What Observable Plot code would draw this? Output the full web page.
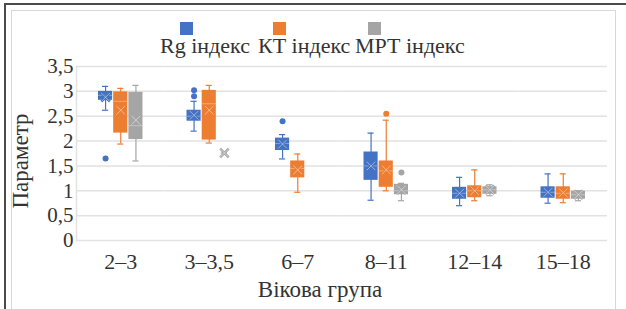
<!DOCTYPE html>
<html><head><meta charset="utf-8">
<script src="https://cdn.jsdelivr.net/npm/d3@7"></script>
<script src="https://cdn.jsdelivr.net/npm/@observablehq/plot@0.6"></script>
<style>
body{margin:0;background:#fff;}
#wrap{position:relative;width:626px;height:309px;overflow:hidden;font-family:"Liberation Serif","Times New Roman","DejaVu Serif",serif;color:#333;}
#frame{position:absolute;left:4px;top:3px;width:640px;height:320px;border-top:2px solid #4a4a4a;border-left:2px solid #4a4a4a;pointer-events:none;}
#inner{position:absolute;left:11px;top:10px;width:603px;height:310px;border:1px solid #d8d8d8;pointer-events:none;}
#legend{position:relative;height:40px;}
.sw{position:absolute;width:13px;height:13px;top:22px;}
.lt{position:absolute;top:34px;font-size:22px;white-space:nowrap;line-height:24px;}
#ytitle{position:absolute;left:21px;top:161px;font-size:23px;white-space:nowrap;transform:translate(-50%,-50%) rotate(-90deg);}
#xtitle{position:absolute;left:320px;top:290px;font-size:23px;white-space:nowrap;transform:translate(-50%,-50%);}
svg{display:block}
</style></head>
<body>
<div id="wrap">
  <div id="frame"></div>
  <div id="inner"></div>
  <div id="legend"></div>
  <div id="chart"></div>
  <div id="ytitle"></div>
  <div id="xtitle"></div>
</div>
<script>
const categories = ["2–3", "3–3,5", "6–7", "8–11", "12–14", "15–18"];
const series = ["Rg індекс", "КТ індекс", "МРТ індекс"];
const colors = ["#4472C4", "#ED7D31", "#A5A5A5"];
const yTicks = [0, 0.5, 1, 1.5, 2, 2.5, 3, 3.5];
const yTitle = "Параметр";
const xTitle = "Вікова група";
// per age group: [whisker low, Q1, median, Q3, whisker high, mean]
const rgStats = [
  [2.62, 2.82, 2.92, 3.00, 3.10, 2.88],
  [2.20, 2.40, 2.50, 2.62, 2.80, 2.52],
  [1.64, 1.81, 1.95, 2.06, 2.13, 1.94],
  [0.81, 1.21, 1.50, 1.78, 2.16, 1.50],
  [0.70, 0.83, 0.95, 1.07, 1.27, 0.95],
  [0.75, 0.85, 0.97, 1.08, 1.34, 0.97]
];
const ktStats = [
  [1.94, 2.16, 2.80, 2.99, 3.06, 2.62],
  [1.96, 2.02, 2.75, 3.02, 3.12, 2.62],
  [0.97, 1.26, 1.45, 1.60, 1.74, 1.42],
  [1.00, 1.07, 1.40, 1.60, 2.42, 1.42],
  [0.80, 0.86, 1.00, 1.10, 1.42, 1.00],
  [0.76, 0.83, 0.95, 1.08, 1.34, 0.96]
];
const mrtStats = [
  [1.60, 2.03, 2.31, 2.98, 3.12, 2.42],
  [1.76, 1.76, 1.76, 1.76, 1.76, 1.76],
  null,
  [0.80, 0.92, 1.00, 1.13, 1.15, 1.02],
  [0.90, 0.93, 1.02, 1.08, 1.12, 1.02],
  [0.80, 0.83, 0.92, 0.99, 1.00, 0.92]
];
const rgOutliers = [[1.65], [2.90, 3.02], [2.40], [], [], []];
const ktOutliers = [[], [], [], [2.55], [], []];
const mrtOutliers = [[], [], [], [1.37], [], []];

const statsBySeries = [rgStats, ktStats, mrtStats];
const outBySeries = [rgOutliers, ktOutliers, mrtOutliers];
const boxes = [], outliers = [];
series.forEach((s, si) => categories.forEach((c, ci) => {
  const st = statsBySeries[si][ci];
  if (st) {
    const [lo, q1, med, q3, hi, mean] = st;
    boxes.push({cat: c, s, lo, q1, med, q3, hi, mean});
  }
  outBySeries[si][ci].forEach(v => outliers.push({cat: c, s, v}));
}));

// legend
const legend = document.getElementById("legend");
const swX = [180, 273, 368];
const txX = [160, 258, 355];
series.forEach((s, i) => {
  const sw = document.createElement("div");
  sw.className = "sw"; sw.style.left = swX[i] + "px"; sw.style.background = colors[i];
  legend.appendChild(sw);
  const t = document.createElement("div");
  t.className = "lt"; t.style.left = txX[i] + "px"; t.textContent = s;
  legend.appendChild(t);
});
document.getElementById("ytitle").textContent = yTitle;
document.getElementById("xtitle").textContent = xTitle;

const fmt = d => String(d).replace(".", ",");
const chart = Plot.plot({
  width: 626, height: 269,
  marginTop: 26, marginBottom: 69, marginLeft: 76, marginRight: 19,
  style: {fontFamily: "'Liberation Serif', 'Times New Roman', 'DejaVu Serif', serif", fontSize: "21px", color: "#333", background: "transparent", overflow: "visible"},
  fx: {domain: categories, padding: 0, round: false},
  x: {domain: series, paddingInner: 0.07, paddingOuter: 1.45, round: false, axis: null},
  y: {domain: [0, 3.5]},
  color: {domain: series, range: colors},
  marks: [
    Plot.ruleY(yTicks, {stroke: "#e2e2e2", strokeWidth: 1.5}),
    Plot.frame({anchor: "left", fx: () => categories[0], stroke: "#e2e2e2", strokeWidth: 1.5}),
    Plot.axisY({ticks: yTicks, tickSize: 0, tickPadding: 3, tickFormat: fmt, label: null, fontSize: 21}),
    Plot.axisFx({anchor: "bottom", tickSize: 0, tickPadding: 13, label: null, fontSize: 22}),
    Plot.ruleX(boxes, {fx: "cat", x: "s", y1: "lo", y2: "hi", stroke: "s", strokeWidth: 1.2}),
    Plot.tickY(boxes, {fx: "cat", x: "s", y: "lo", stroke: "s", inset: 4, strokeWidth: 1.2}),
    Plot.tickY(boxes, {fx: "cat", x: "s", y: "hi", stroke: "s", inset: 4, strokeWidth: 1.2}),
    Plot.barY(boxes, {fx: "cat", x: "s", y1: "q1", y2: "q3", fill: "s"}),
    Plot.tickY(boxes, {fx: "cat", x: "s", y: "med", stroke: "white", strokeOpacity: 0.35}),
    Plot.dot(boxes, {fx: "cat", x: "s", y: "mean", symbol: "times", r: 4, stroke: "s", strokeWidth: 2.5}),
    Plot.dot(boxes, {fx: "cat", x: "s", y: "mean", symbol: "times", r: 4, stroke: "white", strokeOpacity: 0.45, strokeWidth: 1}),
    Plot.dot(outliers, {fx: "cat", x: "s", y: "v", r: 3, fill: "s"})
  ]
});
document.getElementById("chart").appendChild(chart);
</script>
</body></html>
